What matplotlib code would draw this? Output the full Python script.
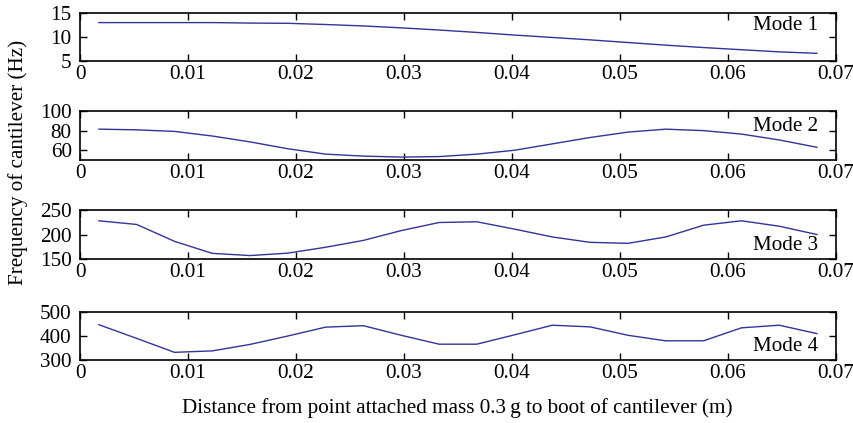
import matplotlib
matplotlib.use("Agg")
import matplotlib.pyplot as plt
import numpy as np

# 20 mass positions along the cantilever (m)
distance = [0.00175, 0.00525, 0.00875, 0.01225, 0.01575, 0.01925, 0.02275,
            0.02625, 0.02975, 0.03325, 0.03675, 0.04025, 0.04375, 0.04725,
            0.05075, 0.05425, 0.05775, 0.06125, 0.06475, 0.06825]

mode1 = [13.0, 13.0, 13.0, 13.0, 12.9, 12.85, 12.6, 12.3, 11.9, 11.45,
         10.95, 10.4, 9.9, 9.4, 8.85, 8.3, 7.8, 7.35, 6.9, 6.6]
mode2 = [81.5, 80.8, 79.2, 74.5, 68.5, 61.5, 56.0, 54.0, 53.0, 53.5,
         56.0, 60.0, 66.5, 73.0, 78.5, 81.5, 80.0, 76.5, 70.5, 63.0]
mode3 = [228, 220.5, 186, 161.5, 157, 162, 174, 188, 208, 224.5,
         226, 211, 195, 184, 182, 195, 219, 228, 217, 200]
mode4 = [447, 390, 332, 338, 365, 400, 437, 443, 403, 366,
         366, 405, 445, 438, 403, 380, 380, 434, 445, 410]

modes = [mode1, mode2, mode3, mode4]
mode_names = ["Mode 1", "Mode 2", "Mode 3", "Mode 4"]
ylims = [(5, 15), (50, 100), (150, 250), (300, 500)]
yticks = [[5, 10, 15], [60, 80, 100], [150, 200, 250], [300, 400, 500]]
xticks = [0, 0.01, 0.02, 0.03, 0.04, 0.05, 0.06, 0.07]
xticklabels = ["0", "0.01", "0.02", "0.03", "0.04", "0.05", "0.06", "0.07"]

plt.rcParams["font.family"] = ["Liberation Serif", "DejaVu Serif"]
FS = 15.2
LINE = "#33339a"

fig = plt.figure(figsize=(8.54, 4.23), dpi=100)

# axes boxes (left, bottom, width, height) in figure fraction
boxes = [(0.0937, 0.8558, 0.885, 0.1135),
         (0.0937, 0.6217, 0.885, 0.1158),
         (0.0937, 0.3877, 0.885, 0.1158),
         (0.0937, 0.1489, 0.885, 0.1135)]
label_pos = [(0.977, 0.73), (0.977, 0.68), (0.977, 0.27), (0.977, 0.28)]

for box, y, name, lim, yt, lp in zip(boxes, modes, mode_names, ylims, yticks, label_pos):
    ax = fig.add_axes(box)
    ax.plot(distance, y, color=LINE, lw=1.0)
    ax.set_xlim(0, 0.07)
    ax.set_ylim(*lim)
    ax.set_xticks(xticks)
    ax.set_xticklabels(xticklabels)
    ax.set_yticks(yt)
    ax.tick_params(direction="in", top=True, right=True, length=5, width=1,
                   labelsize=FS)
    ax.tick_params(axis="y", pad=6)
    ax.tick_params(axis="x", pad=3)
    for s in ax.spines.values():
        s.set_linewidth(1.2)
    ax.text(lp[0], lp[1], name, transform=ax.transAxes, ha="right",
            va="center", fontsize=FS)

fig.text(0.021, 1 - 162 / 423, "Frequency of cantilever (Hz)", rotation=90,
         ha="center", va="center", fontsize=FS)
fig.text(457 / 854, 0.035,
         "Distance from point attached mass 0.3\u2009g to boot of cantilever (m)",
         ha="center", va="center", fontsize=FS)

fig.savefig("out.png", dpi=100)
